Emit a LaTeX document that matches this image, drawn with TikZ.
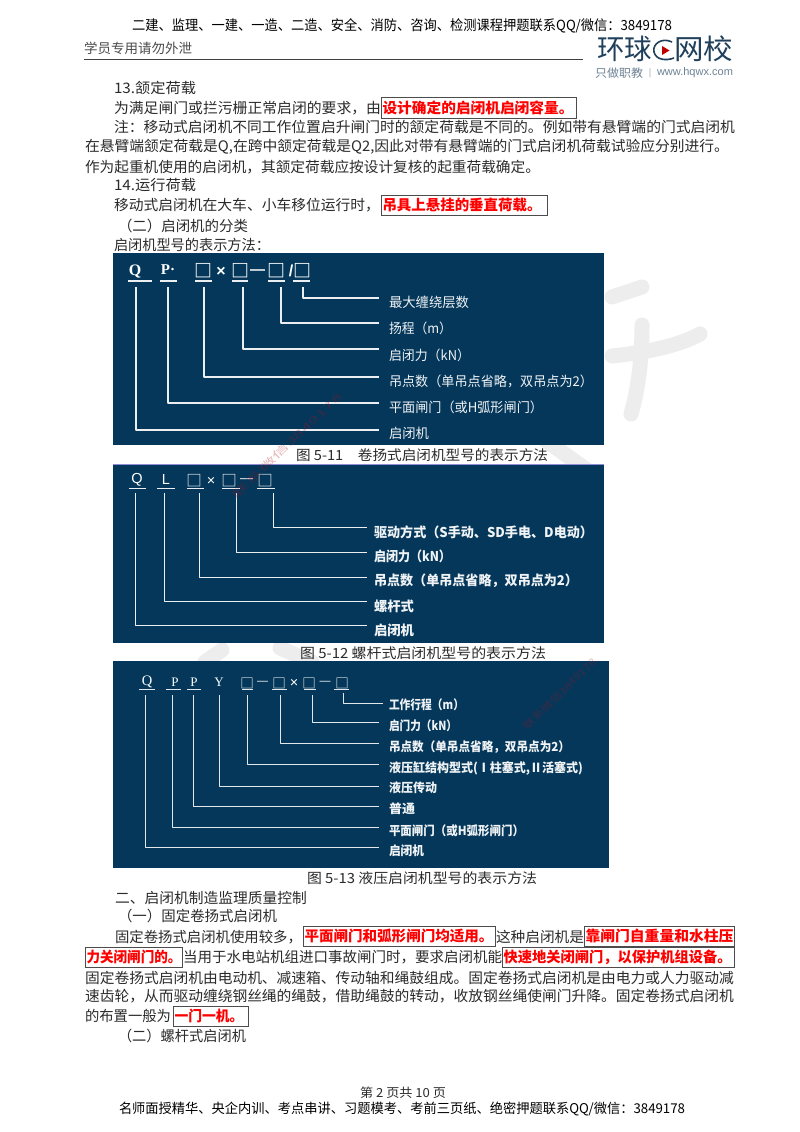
\documentclass[tikz,border=0pt]{standalone}
\usepackage{fontspec}
\usepackage{graphicx}
\setmainfont{Noto Sans CJK SC}
\newfontfamily\serifl{Liberation Serif}
\newfontfamily\sansl{Liberation Sans}
\definecolor{panel}{HTML}{04375A}
\definecolor{ink}{HTML}{2B2B2B}
\definecolor{logoc}{HTML}{1F3F5B}
\definecolor{wm}{HTML}{EDEDED}
\definecolor{markred}{HTML}{FF0000}
\newcommand{\tl}[6]{\node[lab,#6] (#1) at (#2,#4) {\resizebox{\dimexpr #3pt-#2pt\relax}{\height}{#5}};}
\newcommand{\bodysz}{\fontsize{14.5}{15}\selectfont}
\newcommand{\capsz}{\fontsize{14}{15}\selectfont}
\newcommand{\boxr}[6]{\draw[markbox] (#2,#4) rectangle (#3,#5); \node[lab,text=markred] (#1) at (#2+1.5,{(#4+#5)/2+0.3}) {\resizebox{\dimexpr #3pt-#2pt-#6pt\relax}{\height}{\bodysz\bfseries\boxt}};}
\newcommand{\boxt}{}
\newcommand{\sym}[8]{\node[symb] (#1) at (#2,#3) {#4};\coordinate (#1a) at (#5,#7);\coordinate (#1b) at (#6,#7);\draw[#8] (#1a) -- (#1b);}
\newcommand{\cn}[6]{\coordinate (#1s) at (#2,#3);\coordinate (#1e) at (#5,#4);\draw[#6,line join=round] (#1s) |- (#1e);}
\tikzset{
 lab/.style={anchor=west,inner sep=0pt,outer sep=0pt,text=ink},
 symb/.style={inner sep=0pt,outer sep=0pt,text=white},
 markbox/.style={draw=black!70,line width=.8pt},
 lineA/.style={draw=white!92!panel,line width=1.5pt},
 lineB/.style={draw=white!92!panel,line width=1pt},
 lineC/.style={draw=white!88!panel,line width=.8pt},
 wmstroke/.style={draw=wm,line width=15pt,line cap=round},
 wmtext/.style={inner sep=0pt,text=red!70!panel,opacity=.3,rotate=44}
}
\begin{document}
\begin{tikzpicture}[x=1pt,y=-1pt]
\useasboundingbox (0,0) rectangle (800,1132);
\fill[white] (0,0) rectangle (800,1132);
% background watermark strokes
\draw[wmstroke] (612,297) -- (642,287);
\draw[wmstroke] (612,356) .. controls (650,352) and (680,345) .. (700,334);
\draw[wmstroke] (642,325) .. controls (642,360) and (638,390) .. (631,414);
\draw[wmstroke] (545,440) -- (590,472);
\draw[wmstroke] (205,662) -- (222,650);
\draw[wmstroke] (280,648) -- (312,662);
% header
\tl{hd}{132}{672}{26}{\fontsize{14}{15}\selectfont 二建、监理、一建、一造、二造、安全、消防、咨询、检测课程押题联系QQ/微信：3849178}{text=black}
\tl{hs}{84}{192}{48}{\fontsize{13.5}{15}\selectfont\color{black!70} 学员专用请勿外泄}{}
\coordinate (ruleL) at (84,59); \coordinate (ruleR) at (583,59);
\draw[black!75,line width=.9pt] (ruleL) -- (ruleR);
% logo
\tl{lg1}{597}{652}{49}{\fontsize{28}{30}\selectfont\color{logoc} 环球}{}
\tl{lg2}{674}{733}{49}{\fontsize{28}{30}\selectfont\color{logoc} 网校}{}
\draw[logoc,line width=1.6pt] (672,42) .. controls (662,37) and (652,44) .. (654,52) .. controls (656,60) and (666,61) .. (674,58);
\fill[red!75!black] (662,46) -- (669.5,50.5) -- (662,55) -- cycle;
\tl{lg3}{595}{643}{73}{\fontsize{11.5}{12}\selectfont\color{logoc!65} 只做职教}{}
\tl{lg4}{649}{651}{73}{\fontsize{8}{9}\selectfont\color{logoc!65} |}{}
\tl{lg5}{657}{733}{73}{\fontsize{11}{12}\selectfont\sansl\color{logoc!65} www.hqwx.com}{}
% upper body text
\tl{t1}{114}{196}{88}{\bodysz 13.颔定荷载}{}
\tl{t2}{114}{381}{108}{\bodysz 为满足闸门或拦污栅正常启闭的要求，由}{}
\renewcommand{\boxt}{设计确定的启闭机启闭容量。}\boxr{r1}{381}{576}{97}{118}{4}
\tl{t3}{114}{735}{127}{\bodysz 注：移动式启闭机不同工作位置启升闸门时的颔定荷载是不同的。例如带有悬臂端的门式启闭机}{}
\tl{t4}{85}{729}{147}{\bodysz 在悬臂端颔定荷载是Q,在跨中颔定荷载是Q2,因此对带有悬臂端的门式启闭机荷载试验应分别进行。}{}
\tl{t5}{85}{540}{167}{\bodysz 作为起重机使用的启闭机，其颔定荷载应按设计复核的起重荷载确定。}{}
\tl{t6}{114}{196}{185}{\bodysz 14.运行荷载}{}
\tl{t7}{114}{380}{205}{\bodysz 移动式启闭机在大车、小车移位运行时，}{}
\renewcommand{\boxt}{吊具上悬挂的垂直荷载。}\boxr{r2}{381}{547}{195}{215}{7}
\tl{t8}{118}{248}{226}{\bodysz （二）启闭机的分类}{}
\tl{t9}{114}{270}{245}{\bodysz 启闭机型号的表示方法：}{}
% panel 1
\fill[panel] (113,253) rectangle (604,445);
\begin{scope}[every node/.append style={font=\bfseries\fontsize{16}{17}\selectfont}]
\sym{aq}{135}{271}{\serifl Q}{128}{152}{281}{lineA}
\sym{ap}{168}{270}{\serifl\fontsize{15}{16}\selectfont P·}{160}{177}{281}{lineA}
\sym{ab1}{203}{271}{\fontsize{18}{19}\selectfont □}{195}{212}{281}{lineA}
\node[symb] (ax) at (221,272) {\sansl ×};
\sym{ab2}{240}{271}{\fontsize{18}{19}\selectfont □}{232}{248}{281}{lineA}
\node[symb] (am) at (257.5,272) {\sansl\fontsize{15}{16}\selectfont —};
\sym{ab3}{276}{271}{\fontsize{18}{19}\selectfont □}{268}{285}{281}{lineA}
\node[symb] (as) at (291,271) {\sansl /};
\sym{ab4}{302}{271}{\fontsize{18}{19}\selectfont □}{293}{310}{281}{lineA}
\end{scope}
\newcommand{\pa}{\fontsize{13.5}{15}\selectfont\color{white!94!panel}}
\tl{al1}{389}{469}{302}{\pa 最大缠绕层数}{}
\tl{al2}{389}{452}{328}{\pa 扬程（m）}{}
\tl{al3}{389}{470}{355}{\pa 启闭力（kN）}{}
\tl{al4}{389}{593}{381}{\pa 吊点数（单吊点省略，双吊点为2）}{}
\tl{al5}{389}{543}{407}{\pa 平面闸门（或H弧形闸门）}{}
\tl{al6}{389}{429}{433}{\pa 启闭机}{}
\cn{ac1}{303}{287}{298}{379}{lineA}
\cn{ac2}{281}{287}{323}{379}{lineA}
\cn{ac3}{243}{287}{349}{379}{lineA}
\cn{ac4}{204}{287}{377}{379}{lineA}
\cn{ac5}{168}{287}{403}{379}{lineA}
\cn{ac6}{136}{287}{430}{379}{lineA}
\tl{ac}{296}{548}{455}{\capsz 图 5-11\quad 卷扬式启闭机型号的表示方法}{}
\coordinate (sepL) at (113,464.5); \coordinate (sepR) at (604,464.5);
\draw[blue!35!white!85!black,line width=.8pt] (sepL) -- (sepR);
% panel 2
\fill[panel] (113,465) rectangle (604,643);
\begin{scope}[every node/.append style={font=\fontsize{14.5}{15}\selectfont}]
\sym{bq}{137}{480}{\sansl Q}{129}{146}{488}{lineB}
\sym{bl}{166}{480}{\sansl L}{157}{175}{488}{lineB}
\sym{bb1}{194}{481}{\fontsize{15.5}{16}\selectfont □}{187}{204}{488}{lineB}
\node[symb] (bx) at (211,481) {\sansl ×};
\sym{bb2}{229}{481}{\fontsize{15.5}{16}\selectfont □}{222}{240}{488}{lineB}
\node[symb] (bm) at (246.5,481) {\sansl\fontsize{13}{14}\selectfont —};
\sym{bb3}{265}{481}{\fontsize{15.5}{16}\selectfont □}{257}{275}{488}{lineB}
\end{scope}
\newcommand{\pb}{\fontsize{13.5}{15}\selectfont\bfseries\color{white!94!panel}}
\tl{bl1}{374}{593}{532}{\pb 驱动方式（S手动、SD手电、D电动）}{}
\tl{bl2}{374}{451}{556}{\pb 启闭力（kN）}{}
\tl{bl3}{374}{578}{581}{\pb 吊点数（单吊点省略，双吊点为2）}{}
\tl{bl4}{374}{414}{606}{\pb 螺杆式}{}
\tl{bl5}{374}{414}{630}{\pb 启闭机}{}
\cn{bc1}{273}{493}{527}{367}{lineB}
\cn{bc2}{236}{493}{552}{367}{lineB}
\cn{bc3}{199}{493}{577}{367}{lineB}
\cn{bc4}{164}{493}{601}{367}{lineB}
\cn{bc5}{135}{493}{625}{367}{lineB}
\tl{bc}{300}{546}{653}{\capsz 图 5-12 螺杆式启闭机型号的表示方法}{}
% panel 3
\fill[panel] (113,661) rectangle (609,868);
\begin{scope}[every node/.append style={font=\fontsize{14.5}{15}\selectfont}]
\sym{cq}{147}{682}{\serifl Q}{139}{155}{689}{lineC}
\sym{cp1}{175}{682}{\serifl\fontsize{13}{14}\selectfont P}{166}{181}{689}{lineC}
\sym{cp2}{194}{682}{\serifl\fontsize{13}{14}\selectfont P}{187}{201}{689}{lineC}
\node[symb] (cy) at (219,682) {\serifl\fontsize{13}{14}\selectfont Y};
\sym{cb1}{247}{683}{\fontsize{13.5}{14}\selectfont □}{242}{253}{689}{lineC}
\node[symb] (cm1) at (262.5,683) {\sansl\fontsize{11}{12}\selectfont —};
\sym{cb2}{279}{683}{\fontsize{13.5}{14}\selectfont □}{272}{287}{689}{lineC}
\node[symb] (cx) at (294,683) {\sansl ×};
\sym{cb3}{309}{683}{\fontsize{13.5}{14}\selectfont □}{304}{316}{689}{lineC}
\node[symb] (cm2) at (325,683) {\sansl\fontsize{11}{12}\selectfont —};
\sym{cb4}{342}{683}{\fontsize{13.5}{14}\selectfont □}{334}{349}{689}{lineC}
\end{scope}
\newcommand{\pc}{\fontsize{12.5}{15}\selectfont\bfseries\color{white!94!panel}}
\tl{cl1}{389}{464}{705}{\pc 工作行程（m）}{}
\tl{cl2}{389}{457}{726}{\pc 启门力（kN）}{}
\tl{cl3}{389}{570}{747}{\pc 吊点数（单吊点省略，双吊点为2）}{}
\tl{cl4}{389}{583}{768}{\pc 液压缸结构型式(Ⅰ柱塞式,Ⅱ活塞式)}{}
\tl{cl5}{389}{437}{788}{\pc 液压传动}{}
\tl{cl6}{389}{415}{809}{\pc 普通}{}
\tl{cl7}{389}{524}{831}{\pc 平面闸门（或H弧形闸门）}{}
\tl{cl8}{389}{424}{851}{\pc 启闭机}{}
\cn{cc1}{343}{693}{703}{383}{lineC}
\cn{cc2}{312}{695}{722}{379}{lineC}
\cn{cc3}{280}{695}{743}{379}{lineC}
\cn{cc4}{247}{695}{764}{379}{lineC}
\cn{cc5}{219}{695}{786}{379}{lineC}
\cn{cc6}{193}{695}{806}{379}{lineC}
\cn{cc7}{172}{695}{827}{379}{lineC}
\cn{cc8}{145}{695}{847}{379}{lineC}
\tl{cc}{307}{537}{878}{\capsz 图 5-13 液压启闭机型号的表示方法}{}
% faint rotated marks
\node[wmtext] (w1) at (287,446) {\resizebox{147pt}{\height}{\fontsize{10}{11}\selectfont 联系微信3849178}};
\node[wmtext] (w2) at (560,694) {\resizebox{97pt}{\height}{\fontsize{10}{11}\selectfont 联系微信3849178}};
% lower body text
\tl{u1}{115}{307}{898}{\bodysz 二、启闭机制造监理质量控制}{}
\tl{u2}{118}{277}{916}{\bodysz （一）固定卷扬式启闭机}{}
\tl{u3}{115}{302}{937}{\bodysz 固定卷扬式启闭机使用较多，}{}
\renewcommand{\boxt}{平面闸门和弧形闸门均适用。}\boxr{r3}{303}{495}{926}{946}{3}
\tl{u4}{496}{584}{937}{\bodysz 这种启闭机是}{}
\renewcommand{\boxt}{靠闸门自重量和水柱压}\boxr{r4}{584}{734}{926}{946}{2}
\renewcommand{\boxt}{力关闭闸门的。}\boxr{r5}{85}{182}{947}{967}{2}
\tl{u5}{183}{502}{957}{\bodysz 当用于水电站机组进口事故闸门时，要求启闭机能}{}
\renewcommand{\boxt}{快速地关闭闸门，以保护机组设备。}\boxr{r6}{502}{734}{947}{967}{4}
\tl{u6}{85}{734}{978}{\bodysz 固定卷扬式启闭机由电动机、减速箱、传动轴和绳鼓组成。固定卷扬式启闭机是由电力或人力驱动减}{}
\tl{u7}{85}{734}{996}{\bodysz 速齿轮，从而驱动缠绕钢丝绳的绳鼓，借助绳鼓的转动，收放钢丝绳使闸门升降。固定卷扬式启闭机}{}
\tl{u8}{85}{171}{1016}{\bodysz 的布置一般为}{}
\renewcommand{\boxt}{一门一机。}\boxr{r7}{173}{248}{1006}{1026}{6}
\tl{u9}{118}{246}{1036}{\bodysz （二）螺杆式启闭机}{}
% footer
\tl{f1}{360}{446}{1093}{\fontsize{12.5}{14}\selectfont 第 2 页共 10 页}{}
\tl{f2}{119}{685}{1109}{\fontsize{13.5}{15}\selectfont 名师面授精华、央企内训、考点串讲、习题模考、考前三页纸、绝密押题联系QQ/微信：3849178}{text=black}
\end{tikzpicture}
\end{document}
